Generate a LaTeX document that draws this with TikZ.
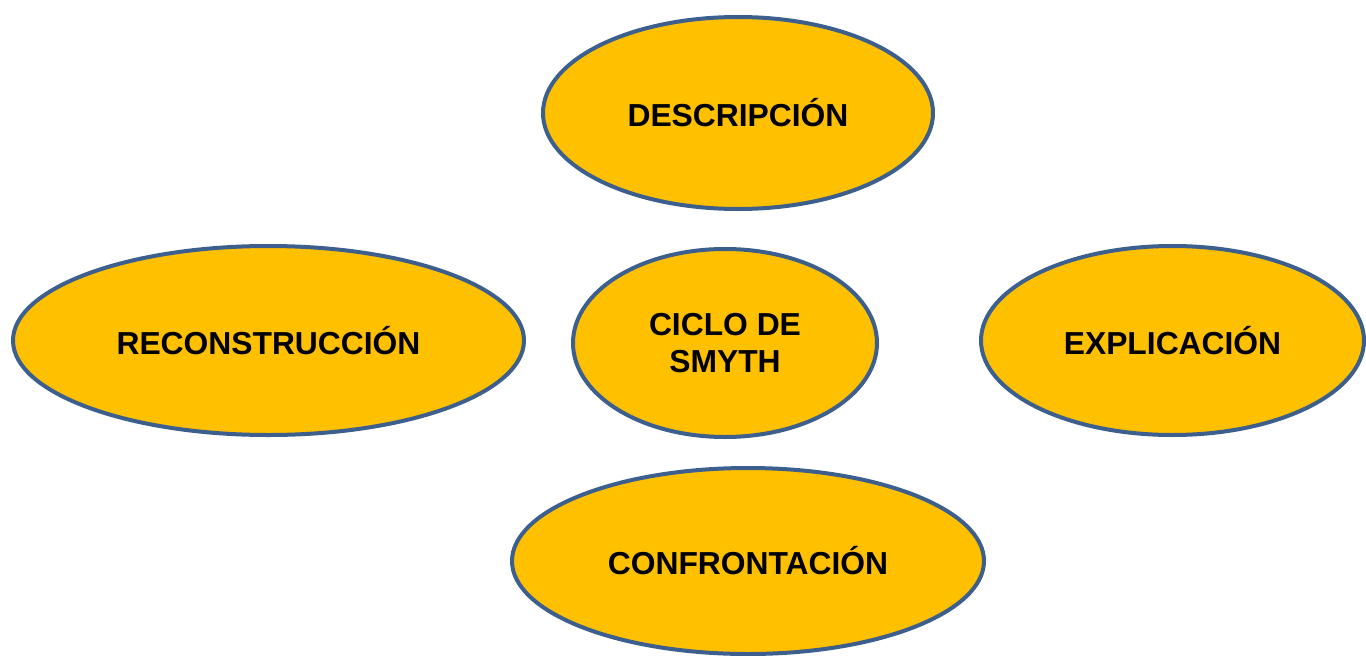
\documentclass[tikz,border=0pt]{standalone}
\usepackage{fontspec}
\setmainfont{Liberation Sans}
\usetikzlibrary{shapes.geometric}
\definecolor{fillor}{HTML}{FFC000}
\definecolor{edgeb}{HTML}{3C5F8E}
\begin{document}
\begin{tikzpicture}[x=1pt,y=-1pt,
  oval/.style={ellipse, draw=edgeb, fill=fillor, line width=4pt, inner sep=0pt,
    font=\fontsize{31.8}{37.5}\selectfont\bfseries, align=center}]
\useasboundingbox (0,0) rectangle (1366,656);
\node[oval, minimum width=390pt, minimum height=192pt] (desc) at (738,113) {DESCRIPCIÓN};
\node[oval, minimum width=511pt, minimum height=189pt] (recon) at (268.5,340.5) {RECONSTRUCCIÓN};
\node[oval, minimum width=304pt, minimum height=188pt] (ciclo) at (725,343) {CICLO DE\\SMYTH};
\node[oval, minimum width=383pt, minimum height=189pt] (expl) at (1172.5,340.5) {EXPLICACIÓN};
\node[oval, minimum width=472pt, minimum height=186pt] (conf) at (748,561) {CONFRONTACIÓN};
\end{tikzpicture}
\end{document}
